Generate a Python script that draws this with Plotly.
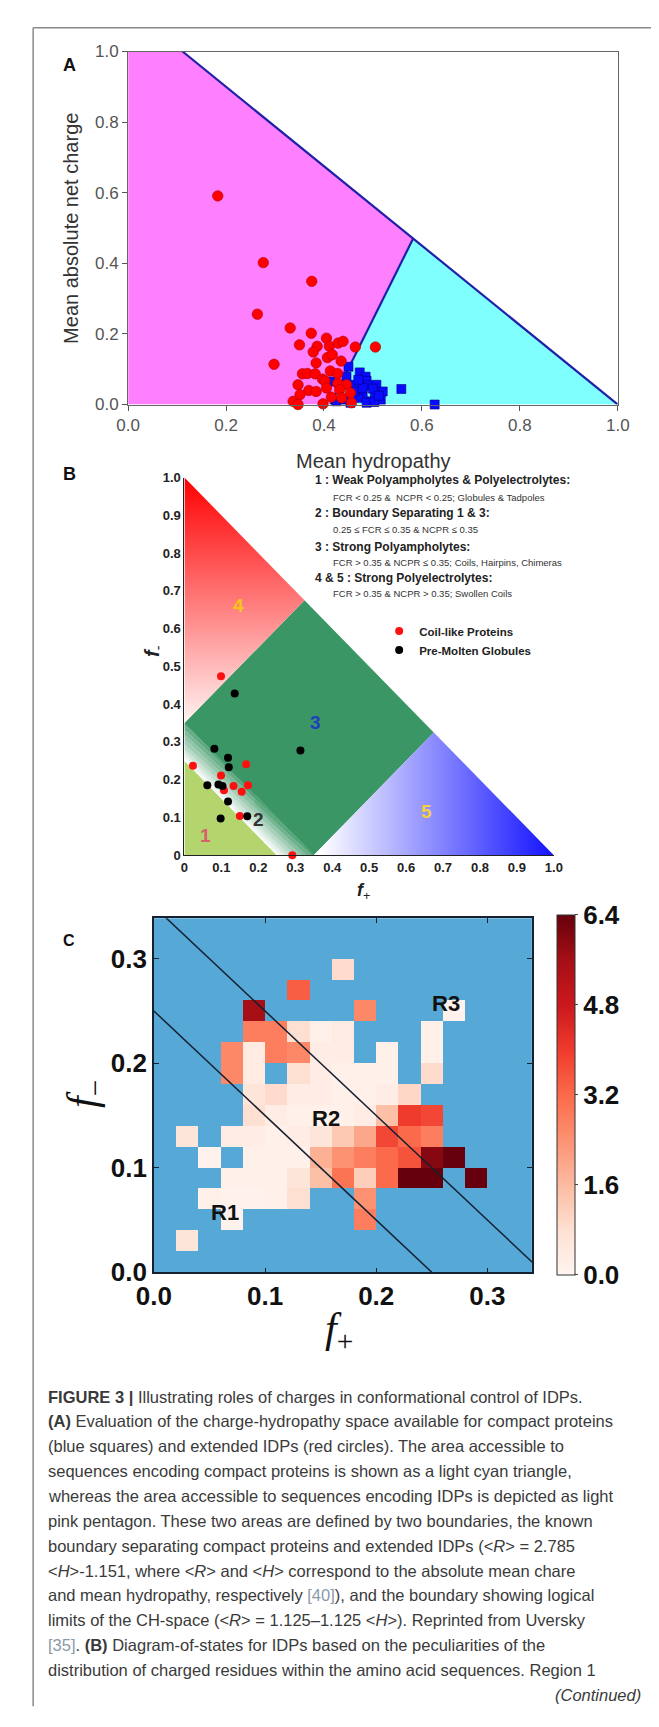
import plotly.graph_objects as go

W, H = 659, 1727
def px(x): return x / W
def py(y): return 1 - y / H

ARIAL = "Liberation Sans, Arial, sans-serif"
NARROW = "Liberation Sans, Arial, sans-serif"
SERIF = "Liberation Serif, Times New Roman, serif"

# ---------------- Panel A data ----------------
a_red_h = [0.183,0.276,0.375,0.264,0.331,0.374,0.298,0.350,0.405,0.386,0.411,0.429,0.439,0.464,0.505,
           0.378,0.407,0.417,0.435,0.384,0.356,0.366,0.382,0.413,0.428,0.397,0.402,0.347,0.369,0.384,
           0.428,0.446,0.432,0.351,0.337,0.347,0.398,0.415,0.436,0.454,0.456,0.405]
a_red_r = [0.591,0.402,0.349,0.256,0.217,0.202,0.114,0.169,0.188,0.165,0.165,0.174,0.179,0.163,0.163,
           0.149,0.133,0.141,0.123,0.118,0.087,0.088,0.087,0.095,0.088,0.072,0.067,0.056,0.040,0.037,
           0.060,0.056,0.042,0.028,0.009,0.000,0.002,0.021,0.019,0.033,0.005,0.047]
a_blue_h = [0.450,0.473,0.485,0.487,0.462,0.489,0.507,0.520,0.558,0.626,0.516,0.495,0.479,0.504,
            0.470,0.454,0.425,0.413,0.462,0.442,0.487,0.503,0.479,0.446,0.500,0.512,0.470]
a_blue_r = [0.107,0.091,0.079,0.067,0.056,0.054,0.056,0.037,0.044,0.000,0.014,0.009,0.028,0.028,
            0.019,0.005,0.009,0.065,0.037,0.014,0.005,0.007,0.047,0.079,0.045,0.025,0.070]
# boundaries: <R> = 2.785<H> - 1.151 and <R> = 1.125 - 1.125<H>
b1_slope, b1_icpt = 2.785, -1.151
b2_slope, b2_icpt = -1.125, 1.125
a_ticks = [0.0, 0.2, 0.4, 0.6, 0.8, 1.0]

# ---------------- Panel B data ----------------
b_red_fp = [0.099,0.023,0.099,0.167,0.107,0.133,0.155,0.172,0.150,0.292]
b_red_fm = [0.474,0.237,0.211,0.241,0.172,0.183,0.168,0.185,0.104,0.000]
b_blk_fp = [0.136,0.081,0.118,0.120,0.314,0.062,0.092,0.103,0.118,0.098,0.170]
b_blk_fm = [0.428,0.282,0.258,0.233,0.277,0.185,0.187,0.183,0.142,0.097,0.103]
b_ticks = [0.0,0.1,0.2,0.3,0.4,0.5,0.6,0.7,0.8,0.9,1.0]
b_ticktext = ["0","0.1","0.2","0.3","0.4","0.5","0.6","0.7","0.8","0.9","1.0"]
fcr_low, fcr_high, ncpr_cut = 0.25, 0.35, 0.35

# ---------------- Panel C data ----------------
bin_w = 0.02
cell_i = [1, 3,9, 2,3,4,5,6,9, 3,4,5,6,7,8,9,10,11,12,14,
          2,4,5,6,7,8,9,10,11,12,13, 1,3,4,5,6,7,8,9,10,11,12,
          4,5,6,7,8,9,10,11,12, 4,5,6,7,8,9,10,11,
          3,4,6,7,8,9,10,12, 3,4,5,6,7,8,10,12,
          4,5,6,7,8,12, 4,9,13, 6, 8]
cell_j = [1, 2,2, 3,3,3,3,3,3, 4,4,4,4,4,4,4,4,4,4,4,
          5,5,5,5,5,5,5,5,5,5,5, 6,6,6,6,6,6,6,6,6,6,6,
          7,7,7,7,7,7,7,7,7, 8,8,8,8,8,8,8,8,
          9,9,9,9,9,9,9,9, 10,10,10,10,10,10,10,10,
          11,11,11,11,11,11, 12,12,12, 13, 14]
cell_v = [0.6, 0.1,2.8, 0.2,0.1,0.1,0.2,0.8,2.4, 0.2,0.2,0.2,0.6,1.5,3.0,1.2,3.2,6.4,6.4,6.4,
          0.1,0.2,0.2,0.2,1.8,2.4,2.8,3.2,3.6,6.0,6.4, 0.6,0.3,0.3,0.2,0.3,0.6,1.3,2.0,3.8,3.2,2.8,
          0.8,0.3,0.2,0.2,0.2,0.3,1.5,4.0,3.8, 0.6,0.9,0.3,0.3,0.2,0.2,0.3,1.0,
          2.6,0.4,0.8,0.3,0.2,0.2,0.2,0.9, 2.6,0.4,2.8,2.6,0.3,0.3,0.2,0.2,
          2.8,2.8,0.8,0.2,0.4,0.2, 5.6,2.6,0.1, 3.4, 0.9]
c_ticks = [0.0, 0.1, 0.2, 0.3]
cb_ticks = [0.0, 1.6, 3.2, 4.8, 6.4]

caption_lines = [
    "<b>FIGURE 3 |</b> Illustrating roles of charges in conformational control of IDPs.",
    "<b>(A)</b> Evaluation of the charge-hydropathy space available for compact proteins",
    "(blue squares) and extended IDPs (red circles). The area accessible to",
    "sequences encoding compact proteins is shown as a light cyan triangle,",
    "whereas the area accessible to sequences encoding IDPs is depicted as light",
    "pink pentagon. These two areas are defined by two boundaries, the known",
    "boundary separating compact proteins and extended IDPs (&lt;<i>R</i>&gt; = 2.785",
    "&lt;<i>H</i>&gt;-1.151, where &lt;<i>R</i>&gt; and &lt;<i>H</i>&gt; correspond to the absolute mean chare",
    "and mean hydropathy, respectively <span style='color:#8a9aa8'>[40]</span>), and the boundary showing logical",
    "limits of the CH-space (&lt;<i>R</i>&gt; = 1.125–1.125 &lt;<i>H</i>&gt;). Reprinted from Uversky",
    "<span style='color:#8a9aa8'>[35]</span>. <b>(B)</b> Diagram-of-states for IDPs based on the peculiarities of the",
    "distribution of charged residues within the amino acid sequences. Region 1",
]

legend_b_lines = [
    ("1 : Weak Polyampholytes &amp; Polyelectrolytes:", True),
    ("FCR &lt; 0.25 &amp;  NCPR &lt; 0.25; Globules &amp; Tadpoles", False),
    ("2 : Boundary Separating 1 &amp; 3:", True),
    ("0.25 ≤ FCR ≤ 0.35 &amp; NCPR ≤ 0.35", False),
    ("3 : Strong Polyampholytes:", True),
    ("FCR &gt; 0.35 &amp; NCPR ≤ 0.35; Coils, Hairpins, Chimeras", False),
    ("4 &amp; 5 : Strong Polyelectrolytes:", True),
    ("FCR &gt; 0.35 &amp; NCPR &gt; 0.35; Swollen Coils", False),
]

fig = go.Figure()

# ================= Panel A =================
h0 = -b1_icpt / b1_slope                       # boundary 1 at R=0
h_top = (1.0 - b2_icpt) / b2_slope             # boundary 2 at R=1
h_int = (b2_icpt - b1_icpt) / (b1_slope - b2_slope)
r_int = b1_slope * h_int + b1_icpt
fig.add_trace(go.Scatter(x=[0, 0, h_top, h_int, h0, 0], y=[0, 1, 1, r_int, 0, 0], fill="toself",
                         fillcolor="#ff80ff", line=dict(width=0), mode="lines",
                         xaxis="x", yaxis="y", showlegend=False, hoverinfo="skip"))
fig.add_trace(go.Scatter(x=[h0, h_int, 1, h0], y=[0, r_int, 0, 0], fill="toself",
                         fillcolor="#80ffff", line=dict(width=0), mode="lines",
                         xaxis="x", yaxis="y", showlegend=False, hoverinfo="skip"))
fig.add_trace(go.Scatter(x=[h_top, 1], y=[1, 0], mode="lines", line=dict(color="#2020a8", width=2.2),
                         xaxis="x", yaxis="y", showlegend=False, hoverinfo="skip"))
fig.add_trace(go.Scatter(x=[h0, h_int], y=[0, r_int], mode="lines", line=dict(color="#2020a8", width=2.2),
                         xaxis="x", yaxis="y", showlegend=False, hoverinfo="skip"))
fig.add_trace(go.Scatter(x=a_blue_h, y=a_blue_r, mode="markers",
                         marker=dict(symbol="square", size=9, color="#0a0aff", line=dict(color="#000080", width=0.6)),
                         xaxis="x", yaxis="y", showlegend=False, cliponaxis=False))
fig.add_trace(go.Scatter(x=a_red_h, y=a_red_r, mode="markers",
                         marker=dict(symbol="circle", size=10.5, color="#ff0000", line=dict(color="#b00000", width=0.6)),
                         xaxis="x", yaxis="y", showlegend=False, cliponaxis=False))

# ================= Panel B =================
fig.add_trace(go.Scatter(x=[0, fcr_low, 0, 0], y=[0, 0, fcr_low, 0], fill="toself", fillcolor="#b4d56e",
                         line=dict(width=0), mode="lines", xaxis="x2", yaxis="y2",
                         showlegend=False, hoverinfo="skip"))
N = 30
g0, g1 = (255, 255, 255), (58, 150, 100)
for k in range(N):
    s0 = fcr_low + (fcr_high - fcr_low) * k / N
    s1 = fcr_low + (fcr_high - fcr_low) * (k + 1.05) / N
    t = (k + 0.5) / N
    col = "rgb(%d,%d,%d)" % tuple(round(g0[c] + (g1[c] - g0[c]) * t) for c in range(3))
    fig.add_trace(go.Scatter(x=[0, s0, s1, 0, 0], y=[s0, 0, 0, s1, s0], fill="toself", fillcolor=col,
                             line=dict(width=0), mode="lines", xaxis="x2", yaxis="y2",
                             showlegend=False, hoverinfo="skip"))
c3 = (1 - ncpr_cut) / 2
fig.add_trace(go.Scatter(x=[0, fcr_high, c3 + ncpr_cut, c3, 0], y=[fcr_high, 0, c3, c3 + ncpr_cut, fcr_high],
                         fill="toself", fillcolor="#3a9664", line=dict(width=0), mode="lines",
                         xaxis="x2", yaxis="y2", showlegend=False, hoverinfo="skip"))
fig.add_trace(go.Scatter(x=[0, 0, c3, 0], y=[ncpr_cut, 1, c3 + ncpr_cut, ncpr_cut], fill="toself",
                         fillgradient=dict(type="vertical", colorscale=[[0, "rgb(255,245,245)"], [1, "rgb(255,0,0)"]],
                                           start=ncpr_cut, stop=1.0),
                         line=dict(width=0), mode="lines", xaxis="x2", yaxis="y2",
                         showlegend=False, hoverinfo="skip"))
fig.add_trace(go.Scatter(x=[ncpr_cut, 1, c3 + ncpr_cut, ncpr_cut], y=[0, 0, c3, 0], fill="toself",
                         fillgradient=dict(type="horizontal", colorscale=[[0, "rgb(255,255,255)"], [1, "rgb(0,0,255)"]],
                                           start=ncpr_cut, stop=1.0),
                         line=dict(width=0), mode="lines", xaxis="x2", yaxis="y2",
                         showlegend=False, hoverinfo="skip"))
fig.add_trace(go.Scatter(x=b_red_fp, y=b_red_fm, mode="markers", name="Coil-like Proteins",
                         marker=dict(size=8, color="#ff1010"), xaxis="x2", yaxis="y2",
                         showlegend=True, cliponaxis=False))
fig.add_trace(go.Scatter(x=b_blk_fp, y=b_blk_fm, mode="markers", name="Pre-Molten Globules",
                         marker=dict(size=8, color="#000000"), xaxis="x2", yaxis="y2",
                         showlegend=True, cliponaxis=False))

# ================= Panel C =================
nb = 17
xc = [bin_w * (k + 0.5) for k in range(nb)]
z = [[None] * nb for _ in range(nb)]
for i, j, v in zip(cell_i, cell_j, cell_v):
    z[j][i] = v
reds = [[0.0, "#fff5f0"], [0.125, "#fee0d2"], [0.25, "#fcbba1"], [0.375, "#fc9272"], [0.5, "#fb6a4a"],
        [0.625, "#ef3b2c"], [0.75, "#cb181d"], [0.875, "#a50f15"], [1.0, "#67000d"]]
fig.add_trace(go.Heatmap(x=xc, y=xc, z=z, colorscale=reds, zmin=0, zmax=6.4, xaxis="x3", yaxis="y3",
                         hoverinfo="skip", showscale=True,
                         colorbar=dict(x=px(556), xanchor="left", xref="paper", xpad=0, ypad=0,
                                       y=py(1093), yanchor="middle", len=360, lenmode="pixels",
                                       thickness=18, thicknessmode="pixels", outlinecolor="#333",
                                       outlinewidth=1, tickvals=cb_ticks, ticktext=["%.1f" % v for v in cb_ticks],
                                       ticks="outside", ticklen=3,
                                       tickfont=dict(family=ARIAL, size=26, color="#111", weight="bold"))))
for s in (fcr_low, fcr_high):
    fig.add_trace(go.Scatter(x=[0, s], y=[s, 0], mode="lines", line=dict(color="#152030", width=1.5),
                             xaxis="x3", yaxis="y3", showlegend=False, hoverinfo="skip"))

# ================= Layout =================
fig.update_layout(
    width=W, height=H, margin=dict(l=0, r=0, t=0, b=0),
    paper_bgcolor="white", plot_bgcolor="rgba(0,0,0,0)",
    xaxis=dict(domain=[px(107), px(620)], range=[0, 1], anchor="y", tickvals=a_ticks, tickformat=".1f",
               ticks="outside", ticklen=5, tickcolor="#555", showline=True, linecolor="#666", mirror=True,
               showgrid=False, zeroline=False, tickfont=dict(family=ARIAL, size=17, color="#555")),
    yaxis=dict(domain=[py(393), py(35)], range=[0, 1], anchor="x", tickvals=a_ticks, tickformat=".1f",
               ticks="outside", ticklen=5, tickcolor="#555", showline=True, linecolor="#666", mirror=True,
               showgrid=False, zeroline=False, tickfont=dict(family=ARIAL, size=17, color="#555")),
    xaxis2=dict(domain=[px(166), px(553)], range=[0, 1], anchor="y2", tickvals=b_ticks, ticktext=b_ticktext,
                ticks="", showline=True, linecolor="#222", showgrid=False, zeroline=False,
                tickfont=dict(family=NARROW, size=13, color="#222", weight="bold")),
    yaxis2=dict(domain=[py(850), py(467)], range=[0, 1], anchor="x2", tickvals=b_ticks, ticktext=b_ticktext,
                ticks="", showline=True, linecolor="#222", showgrid=False, zeroline=False,
                tickfont=dict(family=NARROW, size=13, color="#222", weight="bold")),
    xaxis3=dict(domain=[px(134), px(530)], range=[0, 0.34], anchor="y3", tickvals=c_ticks, tickformat=".1f",
                ticks="inside", ticklen=5, tickcolor="#152030", showline=True, linecolor="#152030",
                linewidth=1.5, mirror="ticks", showgrid=False, zeroline=False,
                tickfont=dict(family=ARIAL, size=26, color="#111", weight="bold")),
    yaxis3=dict(domain=[py(1273), py(914)], range=[0, 0.3387], anchor="x3", tickvals=c_ticks, tickformat=".1f",
                ticks="inside", ticklen=5, tickcolor="#152030", showline=True, linecolor="#152030",
                linewidth=1.5, mirror="ticks", showgrid=False, zeroline=False,
                tickfont=dict(family=ARIAL, size=26, color="#111", weight="bold")),
    legend=dict(x=px(370), y=py(608), xanchor="left", yanchor="top", bgcolor="rgba(0,0,0,0)",
                font=dict(family=NARROW, size=11.5, color="#222", weight="bold"), itemwidth=30,
                tracegroupgap=0),
    showlegend=True,
)

shapes = [
    dict(type="rect", xref="x3 domain", yref="y3 domain", x0=0, x1=1, y0=0, y1=1,
         fillcolor="#56a8d6", line=dict(width=0), layer="below"),
    dict(type="line", xref="paper", yref="paper", x0=px(7.5), x1=px(7.5), y0=py(11), y1=py(1713),
         line=dict(color="#8a8a8a", width=1.5)),
    dict(type="line", xref="paper", yref="paper", x0=px(7.5), x1=1.0, y0=py(11), y1=py(11),
         line=dict(color="#8a8a8a", width=1.5)),
]
fig.update_layout(shapes=shapes)

ann = []
def A(text, x, y, size, family=ARIAL, color="#222", xanchor="center", yanchor="middle", angle=0, **kw):
    ann.append(dict(text=text, x=px(x), y=py(y), xref="paper", yref="paper", showarrow=False,
                    xanchor=xanchor, yanchor=yanchor, textangle=angle, borderpad=0,
                    font=dict(family=family, size=size, color=color, **kw)))

# panel letters
A("<b>A</b>", 46, 49, 18, color="#111")
A("<b>B</b>", 46, 463, 18, color="#111")
A("<b>C</b>", 45, 937, 16, color="#111")
# panel A titles
A("Mean absolute net charge", 47, 214, 20, color="#333", angle=-90)
A("Mean hydropathy", 364, 450, 20, color="#333")
# panel B legend text
ys = [470, 487, 503, 520, 537, 553, 569, 585]
for (t, bold), yy in zip(legend_b_lines, ys):
    if bold:
        A(t, 302, yy, 12, family=NARROW, color="#222", xanchor="left", weight="bold")
    else:
        A(t, 321, yy, 9.5, family=NARROW, color="#333", xanchor="left")
# panel B axis titles
A("<b><i>f</i></b><sub>-</sub>", 133, 643, 20, family=ARIAL, color="#222", angle=-90)
A("<b><i>f</i></b><sub>+</sub>", 354, 887, 18, family=ARIAL, color="#222")
# panel B region labels
for t, xx, yy, col in [("1", 0.057, 0.052, "#d9606a"), ("2", 0.200, 0.094, "#333333"),
                       ("3", 0.354, 0.352, "#1f3fbf"), ("4", 0.145, 0.660, "#f5c518"),
                       ("5", 0.656, 0.115, "#f2d040")]:
    ann.append(dict(text=t, x=xx, y=yy, xref="x2", yref="y2", showarrow=False,
                    font=dict(family=NARROW, size=19, color=col, weight="bold")))
# panel C region labels
for t, xx, yy in [("R1", 0.064, 0.0575), ("R2", 0.155, 0.147), ("R3", 0.263, 0.2575)]:
    ann.append(dict(text=t, x=xx, y=yy, xref="x3", yref="y3", showarrow=False,
                    font=dict(family=ARIAL, size=22, color="#111", weight="bold")))
# panel C axis titles
A("<i>f</i><sub>+</sub>", 328, 1333, 42, family=SERIF, color="#111")
A("<i>f</i><sub>−</sub>", 62, 1092, 42, family=SERIF, color="#111", angle=-90)
# caption
for k, line in enumerate(caption_lines):
    A(line, 22, 1399 + k * 25.2, 16.5, color="#3a3a3a", xanchor="left")
A("<i>(Continued)</i>", 645, 1702, 16.5, color="#3a3a3a", xanchor="right")

fig.update_layout(annotations=ann)
fig.write_html("out.html")
